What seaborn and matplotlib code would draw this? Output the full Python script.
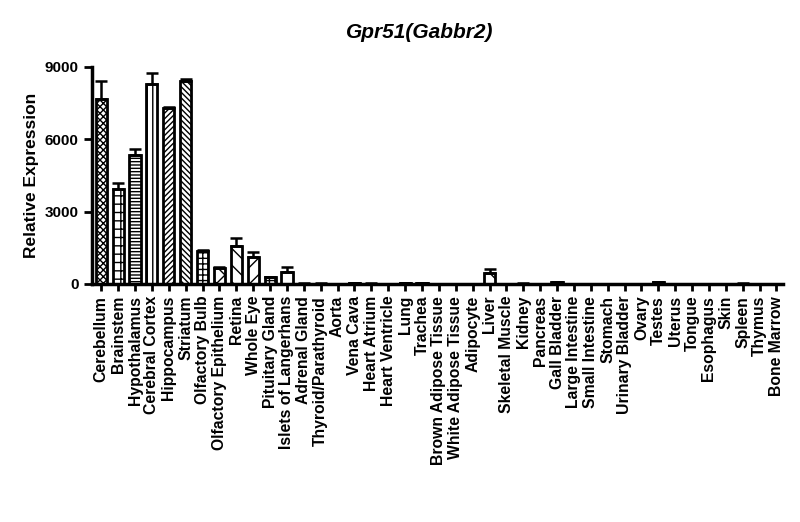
import numpy as np
import pandas as pd
import matplotlib
matplotlib.use("Agg")
import matplotlib.pyplot as plt
import seaborn as sns

# ─── Data ─────────────────────────────────────────────────────────────────────
tissues = [
    "Cerebellum", "Brainstem", "Hypothalamus", "Cerebral Cortex", "Hippocampus",
    "Striatum", "Olfactory Bulb", "Olfactory Epithelium", "Retina", "Whole Eye",
    "Pituitary Gland", "Islets of Langerhans", "Adrenal Gland", "Thyroid/Parathyroid",
    "Aorta", "Vena Cava", "Heart Atrium", "Heart Ventricle", "Lung", "Trachea",
    "Brown Adipose Tissue", "White Adipose Tissue", "Adipocyte", "Liver",
    "Skeletal Muscle", "Kidney", "Pancreas", "Gall Bladder", "Large Intestine",
    "Small Intestine", "Stomach", "Urinary Bladder", "Ovary", "Testes", "Uterus",
    "Tongue", "Esophagus", "Skin", "Spleen", "Thymus", "Bone Marrow",
]
expression = [
    7650, 3950, 5350, 8280, 7300, 8420, 1370, 680, 1580, 1120,
    280, 480, 15, 15, 10, 50, 15, 10, 30, 20,
    10, 10, 10, 470, 10, 15, 10, 80, 10, 10,
    10, 10, 10, 80, 10, 10, 10, 10, 15, 10, 10,
]
sem = [
    770, 220, 250, 480, 40, 80, 20, 20, 340, 210,
    20, 240, 5, 5, 5, 10, 5, 5, 10, 5,
    5, 5, 5, 140, 5, 5, 5, 20, 5, 5,
    5, 5, 5, 20, 5, 5, 5, 5, 5, 5, 5,
]
hatches = [
    "xxxxx", "++", "-----", "|||", "//////", "\\\\\\\\\\\\", "+++", "xx", "\\\\", "//",
    "+++", "", "-----", "xxxx", "|||", "////", "\\\\\\", "++", "xx", "\\\\",
    "//", "+++", "", "\\\\", "xxxx", "|||", "////", "+++", "---", "xx",
    "\\\\", "//", "++", "---", "", "xxxx", "|||", "////", "\\\\\\", "++", "xx",
]

df = pd.DataFrame({"tissue": tissues, "expr": expression, "sem": sem})

sns.set_style("ticks")
plt.rcParams["font.family"] = ["Liberation Sans", "DejaVu Sans"]
plt.rcParams["font.weight"] = "bold"
plt.rcParams["hatch.linewidth"] = 1.0
plt.rcParams["text.color"] = "black"
plt.rcParams["axes.labelcolor"] = "black"
plt.rcParams["xtick.color"] = "black"
plt.rcParams["ytick.color"] = "black"
plt.rcParams["axes.edgecolor"] = "black"

fig = plt.figure(figsize=(8, 5.22), dpi=100)
ax = fig.add_axes([0.115, 0.456, 0.864, 0.416])

sns.barplot(data=df, x="tissue", y="expr", color="white", edgecolor="black",
            linewidth=2, width=0.66, ax=ax, errorbar=None)

for patch, h in zip(ax.patches, hatches):
    patch.set_facecolor("white")
    patch.set_hatch(h)

# one-sided (upper) error bars
xpos = np.arange(len(tissues))
ax.errorbar(xpos, df["expr"], yerr=[np.zeros(len(sem)), df["sem"]],
            fmt="none", ecolor="black", elinewidth=1.8, capsize=4, capthick=1.8)

ax.set_xlim(-0.55, 40.4)
ax.set_ylim(0, 9000)
ax.set_yticks([0, 3000, 6000, 9000])
ax.set_xlabel("")
ax.set_ylabel("Relative Expression", fontsize=12.5, fontweight="bold", labelpad=4)
ax.tick_params(axis="y", labelsize=11, width=2, length=6, colors="black")
ax.tick_params(axis="x", labelsize=11.3, width=2, length=5, rotation=90, colors="black")
for lbl in ax.get_xticklabels() + ax.get_yticklabels():
    lbl.set_fontweight("bold")

sns.despine(ax=ax)
ax.spines["left"].set_linewidth(2.5)
ax.spines["bottom"].set_linewidth(2.5)

fig.text(0.525, 0.937, "Gpr51(Gabbr2)", ha="center", va="center",
         fontsize=15, fontweight="bold", fontstyle="italic", color="black")

fig.savefig("out.png", dpi=100)
